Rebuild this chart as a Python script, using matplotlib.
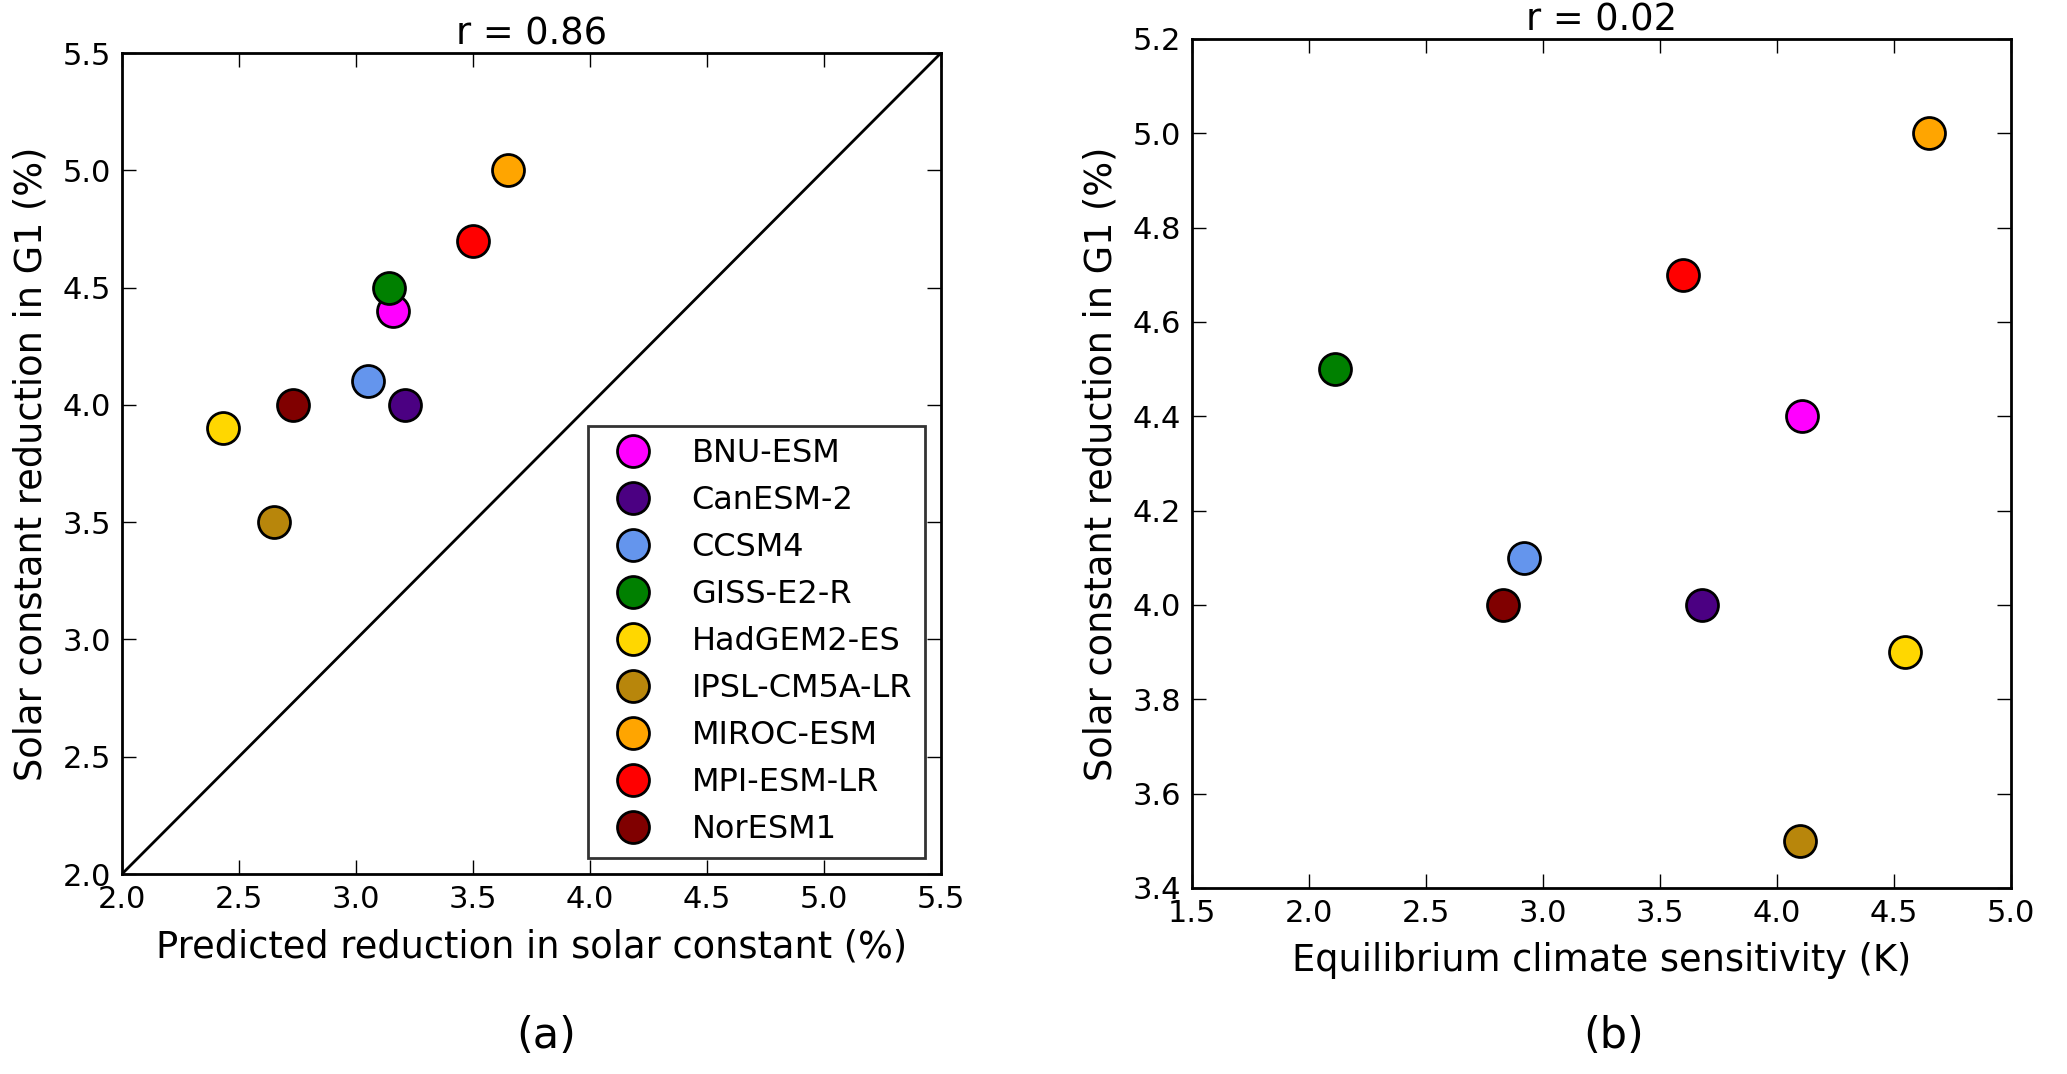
import matplotlib
matplotlib.use("Agg")
import matplotlib.pyplot as plt
import numpy as np

# Models and colours
models = ['BNU-ESM', 'CanESM-2', 'CCSM4', 'GISS-E2-R', 'HadGEM2-ES',
          'IPSL-CM5A-LR', 'MIROC-ESM', 'MPI-ESM-LR', 'NorESM1']
colors = ['magenta', 'indigo', 'cornflowerblue', 'green', 'gold',
          'darkgoldenrod', 'orange', 'red', 'maroon']

# Solar constant reduction in G1 (%)
g1_reduction = [4.4, 4.0, 4.1, 4.5, 3.9, 3.5, 5.0, 4.7, 4.0]
# Predicted reduction in solar constant (%)
predicted = [3.16, 3.21, 3.05, 3.14, 2.43, 2.65, 3.65, 3.50, 2.73]
# Equilibrium climate sensitivity (K)
ecs = [4.11, 3.68, 2.92, 2.11, 4.55, 4.10, 4.65, 3.60, 2.83]

r_a = 0.86
r_b = 0.02

plt.rcParams['font.family'] = ['DejaVu Sans']
plt.rcParams['font.size'] = 22

fig = plt.figure(figsize=(20.67, 10.74), dpi=100)
ax1 = fig.add_axes([0.0590, 0.1862, 0.3962, 0.7644])
ax2 = fig.add_axes([0.5767, 0.1732, 0.3960, 0.7905])

label_size = 26.5


def style_axes(ax):
    for s in ax.spines.values():
        s.set_linewidth(2)
    ax.tick_params(direction='in', length=10, width=1, top=True, right=True,
                   pad=8, labelsize=22)


# Panel (a)
ax1.plot([2.0, 5.5], [2.0, 5.5], color='black', lw=2)
for x, y, c, m in zip(predicted, g1_reduction, colors, models):
    ax1.plot(x, y, 'o', color=c, markeredgecolor='black', markeredgewidth=2,
             markersize=23, linestyle='none', label=m)
ax1.set_xlim(2.0, 5.5)
ax1.set_ylim(2.0, 5.5)
ax1.set_xticks(np.arange(2.0, 5.51, 0.5))
ax1.set_yticks(np.arange(2.0, 5.51, 0.5))
ax1.set_xlabel('Predicted reduction in solar constant (%)', fontsize=label_size,
               labelpad=10.5)
ax1.set_ylabel('Solar constant reduction in G1 (%)', fontsize=label_size,
               labelpad=9)
ax1.set_title('r = %.2f' % r_a, fontsize=label_size)
style_axes(ax1)
leg = ax1.legend(loc='lower right', numpoints=1, fontsize=23, fancybox=False,
                 labelspacing=0.5, handletextpad=0.83, borderaxespad=0.5)
leg.get_frame().set_edgecolor('black')
leg.get_frame().set_linewidth(2)

# Panel (b)
for x, y, c, m in zip(ecs, g1_reduction, colors, models):
    ax2.plot(x, y, 'o', color=c, markeredgecolor='black', markeredgewidth=2,
             markersize=23, linestyle='none', label=m)
ax2.set_xlim(1.5, 5.0)
ax2.set_ylim(3.4, 5.2)
ax2.set_xticks(np.arange(1.5, 5.01, 0.5))
ax2.set_yticks(np.arange(3.4, 5.21, 0.2))
ax2.set_xlabel('Equilibrium climate sensitivity (K)', fontsize=label_size,
               labelpad=10)
ax2.set_ylabel('Solar constant reduction in G1 (%)', fontsize=label_size,
               labelpad=9)
ax2.set_title('r = %.2f' % r_b, fontsize=label_size)
style_axes(ax2)

fig.text(0.2640, 0.0354, '(a)', fontsize=31, ha='center', va='center')
fig.text(0.7805, 0.0354, '(b)', fontsize=31, ha='center', va='center')

fig.savefig('out.png', dpi=100)
